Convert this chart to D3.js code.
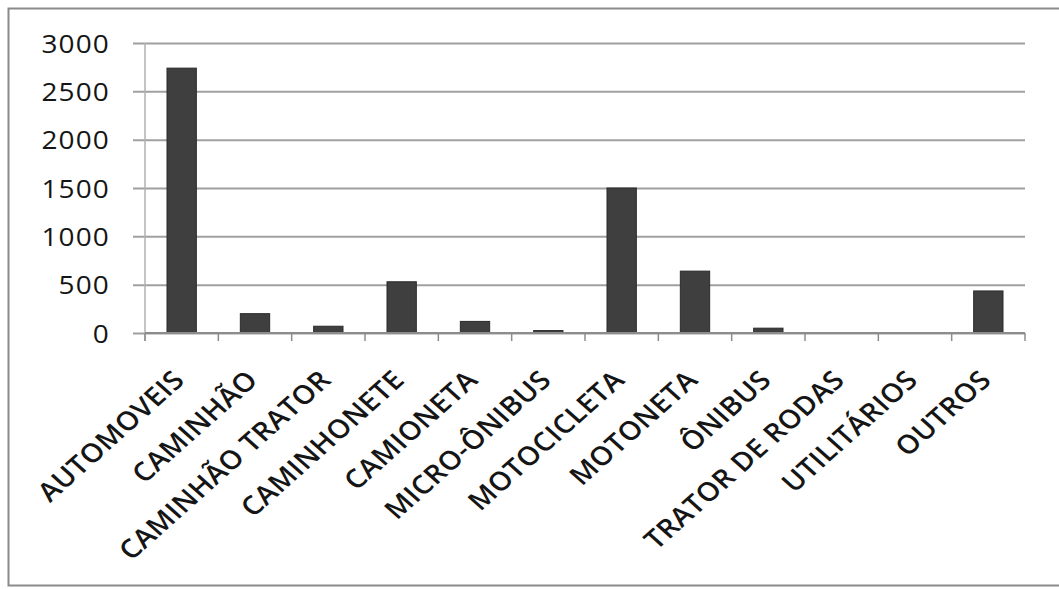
<!DOCTYPE html>
<html>
<head>
<meta charset="utf-8">
<script src="https://cdn.jsdelivr.net/npm/d3@7"></script>
<style>
  html, body { margin: 0; padding: 0; background: #fff; }
  svg { display: block; }
  text { font-family: "Open Sans", "Liberation Sans", sans-serif; fill: #151515; font-weight: 600; }
</style>
</head>
<body>
<svg id="chart" width="1059" height="589"></svg>
<script>
// Vehicle categories and their counts
const categories = [
  "AUTOMOVEIS", "CAMINHÃO", "CAMINHÃO TRATOR", "CAMINHONETE", "CAMIONETA",
  "MICRO-ÔNIBUS", "MOTOCICLETA", "MOTONETA", "ÔNIBUS", "TRATOR DE RODAS",
  "UTILITÁRIOS", "OUTROS"
];
const counts = [2740, 200, 70, 530, 120, 25, 1500, 640, 50, 0, 0, 435];
const yTicks = [0, 500, 1000, 1500, 2000, 2500, 3000];

const W = 1059, H = 589;
const plot = { left: 145, right: 1025, top: 43, bottom: 333 };
const stretch = 1.12; // text is drawn slightly widened

const svg = d3.select("#chart");

// outer frame
svg.append("rect")
  .attr("x", 8.5).attr("y", 8.5)
  .attr("width", W + 10).attr("height", 577)
  .attr("fill", "#fff")
  .attr("stroke", "#8a8a8a").attr("stroke-width", 2);

const x = d3.scaleBand()
  .domain(categories)
  .range([plot.left, plot.right])
  .paddingInner(0.6)
  .paddingOuter(0.3);

const y = d3.scaleLinear()
  .domain([0, 3000])
  .range([plot.bottom, plot.top]);

// horizontal gridlines with left tick marks
const yAxis = d3.axisLeft(y)
  .tickValues(yTicks)
  .tickFormat(d3.format("d"));

const gy = svg.append("g")
  .attr("transform", `translate(${plot.right},0)`)
  .call(yAxis);
gy.select(".domain").remove();
gy.selectAll(".tick line")
  .attr("x1", -(plot.right - plot.left) - 12)
  .attr("x2", 0)
  .attr("stroke", "#a0a0a0").attr("stroke-width", 2);
gy.selectAll(".tick text")
  .attr("x", null)
  .attr("transform", `translate(${-(plot.right - plot.left) - 35},0) scale(${stretch},1)`)
  .style("font-size", "25px")
  .style("font-weight", "500")
  .style("letter-spacing", "1px")
  .attr("fill", "#151515")
  .attr("text-anchor", "end")
  .attr("dy", "0.36em");

// vertical axis line
svg.append("line")
  .attr("x1", plot.left).attr("x2", plot.left)
  .attr("y1", plot.top).attr("y2", plot.bottom + 8)
  .attr("stroke", "#b0b0b0").attr("stroke-width", 1.5);

// bars
svg.append("g").selectAll("rect")
  .data(categories.map((c, i) => ({ c, v: counts[i] })))
  .join("rect")
  .attr("x", d => x(d.c))
  .attr("width", x.bandwidth())
  .attr("y", d => y(d.v))
  .attr("height", d => y(0) - y(d.v))
  .attr("fill", "#3f3f3f")
  .attr("stroke", "#2a2a2a")
  .attr("stroke-width", 1);

// category axis with ticks at band boundaries
const step = x.step();
const boundaries = d3.range(categories.length + 1).map(i => plot.left + i * step);
const gx = svg.append("g");
gx.append("line")
  .attr("x1", plot.left).attr("x2", plot.right)
  .attr("y1", plot.bottom).attr("y2", plot.bottom)
  .attr("stroke", "#8c8c8c").attr("stroke-width", 2);
gx.selectAll("line.tk")
  .data(boundaries)
  .join("line")
  .attr("class", "tk")
  .attr("x1", d => d).attr("x2", d => d)
  .attr("y1", plot.bottom).attr("y2", plot.bottom + 8)
  .attr("stroke", "#8c8c8c").attr("stroke-width", 1.5);

// rotated category labels
gx.selectAll("text")
  .data(categories)
  .join("text")
  .attr("transform", d => `translate(${x(d) + x.bandwidth() / 2 - 3},${plot.bottom + 42}) scale(${stretch},1) rotate(-45)`)
  .attr("text-anchor", "end")
  .attr("dy", "0.36em")
  .style("font-size", "26px")
  .style("letter-spacing", "0.3px")
  .text(d => d);
</script>
</body>
</html>
